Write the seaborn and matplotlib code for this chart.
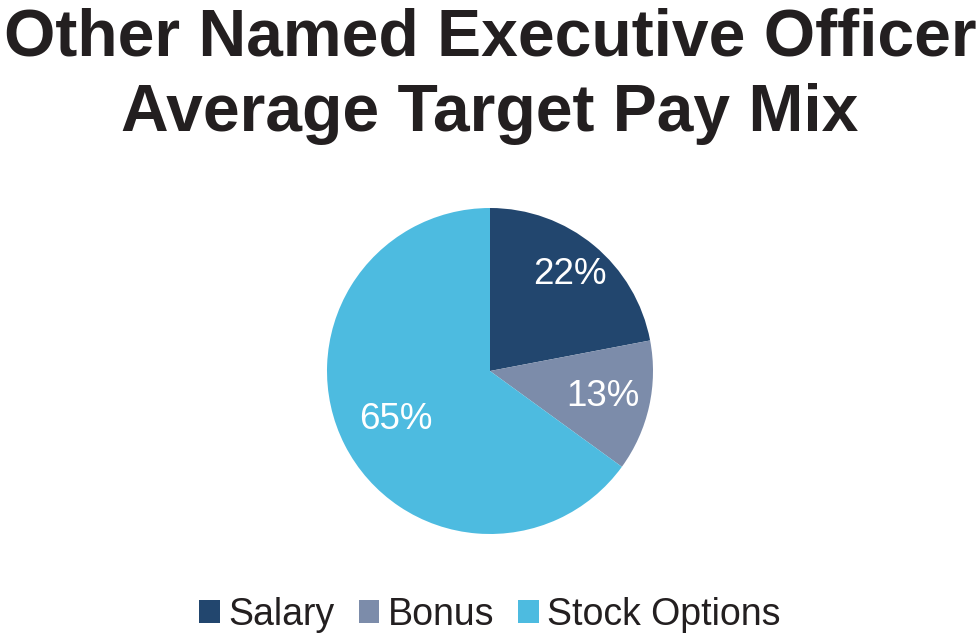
import numpy as np
import matplotlib
matplotlib.use("Agg")
import matplotlib.pyplot as plt
import seaborn as sns
from matplotlib.patches import Patch

# Data
categories = ["Salary", "Bonus", "Stock Options"]
shares = [22, 13, 65]
colors = ["#22466E", "#7C8CAA", "#4DBBE0"]
title = "Other Named Executive Officer\nAverage Target Pay Mix"

sns.set_theme(style="white")
plt.rcParams["font.family"] = ["Liberation Sans", "DejaVu Sans"]

fig = plt.figure(figsize=(9.8, 6.38), dpi=100)
fig.patch.set_facecolor("white")

# pie axes: centre (490, 371), radius 163 px
cx, cy, r = 490, 371, 163
ax = fig.add_axes([(cx - r) / 980, (638 - cy - r) / 638, 2 * r / 980, 2 * r / 638])
palette = sns.color_palette(colors)
wedges, _ = ax.pie(shares, colors=palette, startangle=90, counterclock=False,
                   radius=1.0, wedgeprops=dict(linewidth=0))
ax.set_xlim(-1, 1)
ax.set_ylim(-1, 1)
ax.set_aspect("equal")
ax.axis("off")

# percentage labels inside the wedges
label_dist = [0.77, 0.71, 0.65]
for w, val, d in zip(wedges, shares, label_dist):
    ang = np.deg2rad((w.theta1 + w.theta2) / 2)
    ax.text(d * np.cos(ang), d * np.sin(ang), f"{val}%", color="white",
            fontsize=26.5, ha="center", va="center")

fig.text(0.5, 1 - 8 / 638, title, ha="center", va="top", fontsize=47.5,
         fontweight="bold", color="#231F20", linespacing=1.28)

handles = [Patch(facecolor=c, edgecolor="none") for c in palette]
fig.legend(handles, categories, loc="center", bbox_to_anchor=(0.5, 1 - 615 / 638),
           ncol=3, frameon=False, fontsize=27, handlelength=0.55, handleheight=0.55,
           handletextpad=0.22, columnspacing=0.65, borderpad=0, labelcolor="#231F20")

fig.savefig("out.png", dpi=100)
